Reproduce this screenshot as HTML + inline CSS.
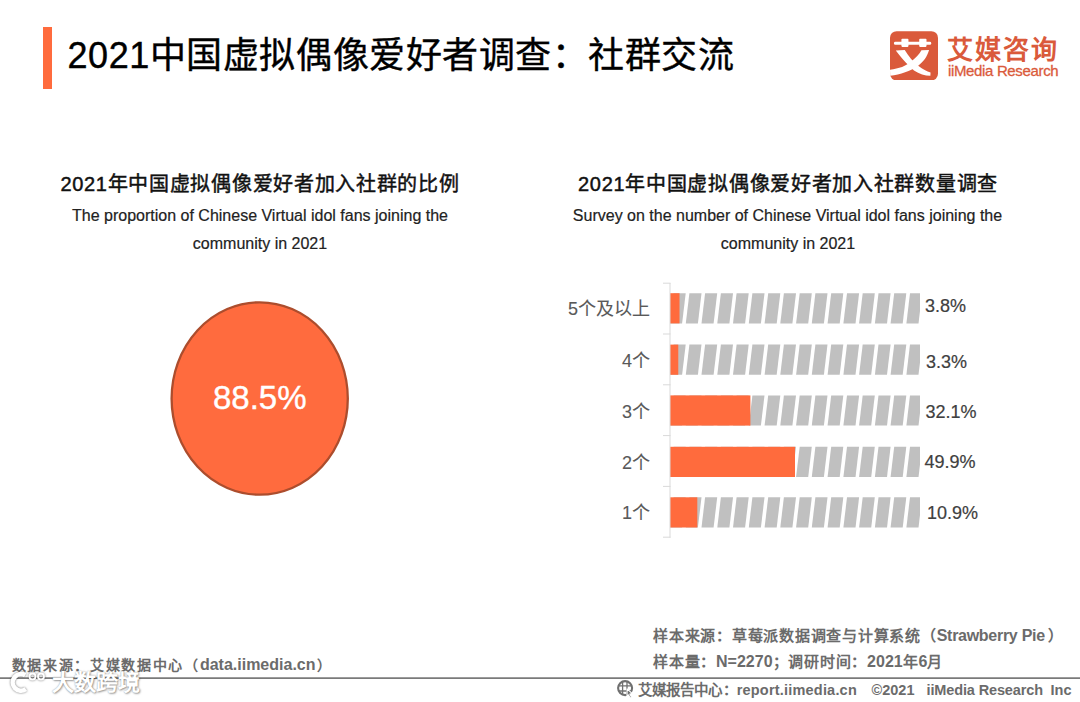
<!DOCTYPE html>
<html lang="zh-CN"><head><meta charset="utf-8">
<style>
html,body{margin:0;padding:0;}
body{width:1080px;height:702px;position:relative;overflow:hidden;background:#fff;font-family:"Liberation Sans",sans-serif;}
.a{position:absolute;white-space:nowrap;line-height:1;}
#bar{left:43px;top:27px;width:9px;height:61.5px;background:#FF6B3D;}
#title{left:67.5px;top:38px;font-size:36px;letter-spacing:0.55px;color:#000;-webkit-text-stroke:0.4px #000;}
#logoCh{left:947px;top:37px;font-size:26px;letter-spacing:2px;color:#DA5A3B;font-weight:bold;}
#logoEn{left:948px;top:63px;font-size:15px;color:#DA5A3B;letter-spacing:-0.35px;-webkit-text-stroke:0.3px #DA5A3B;}
.h{font-size:20px;letter-spacing:0.7px;font-weight:normal;-webkit-text-stroke:0.45px #111;color:#111;text-align:center;}
.en{font-size:16px;color:#222;text-align:center;-webkit-text-stroke:0.2px #222;}
.lbl{font-size:18px;color:#595959;text-align:right;-webkit-text-stroke:0.1px #595959;}
.val{font-size:18px;color:#404040;-webkit-text-stroke:0.2px #404040;}
.foot{font-size:16px;font-weight:bold;color:#6b6b6b;}
.c{font-size:15px;letter-spacing:0.76px;}
.c2{font-size:14px;letter-spacing:1.7px;}
.wm{font-size:22px;font-weight:bold;color:#fff;text-shadow:0 0 1.5px rgba(0,0,0,.4),1px 1px 2px rgba(0,0,0,.35);}
</style></head><body>
<div class="a" id="bar"></div>
<div class="a" id="title">2021中国虚拟偶像爱好者调查：社群交流</div>
<svg class="a" style="left:890px;top:30.5px" width="48" height="49.5" viewBox="60 55 580 595">
<rect x="60" y="55" width="580" height="595" rx="80" fill="#DA5A3B"/>
<g fill="#fff">
<rect x="108" y="183" width="450" height="36" rx="16"/>
<rect x="198" y="148" width="85" height="98" rx="10"/>
<rect x="413" y="148" width="88" height="98" rx="10"/>
<path d="M130,290 L238,283 C285,360 335,420 405,476 C455,516 505,541 550,554 L548,594 C480,594 415,572 350,530 C280,470 213,400 130,290 Z"/>
<path d="M440,287 L532,283 C507,365 467,425 397,475 C307,540 187,575 62,594 L60,522 C170,508 255,475 313,425 C373,375 413,340 440,287 Z"/>
</g></svg>
<div class="a" id="logoCh">艾媒咨询</div>
<div class="a" id="logoEn">iiMedia Research</div>

<div class="a h" style="left:60px;top:174px;width:400px;">2021年中国虚拟偶像爱好者加入社群的比例</div>
<div class="a en" style="left:60px;top:207.5px;width:400px;">The proportion of Chinese Virtual idol fans joining the</div>
<div class="a en" style="left:60px;top:235.5px;width:400px;">community in 2021</div>

<div class="a h" style="left:538px;top:174px;width:500px;">2021年中国虚拟偶像爱好者加入社群数量调查</div>
<div class="a en" style="left:537.5px;top:207.5px;width:500px;">Survey on the number of Chinese Virtual idol fans joining the</div>
<div class="a en" style="left:538px;top:235.5px;width:500px;">community in 2021</div>

<svg class="a" style="left:0;top:0" width="1080" height="702">
<defs><clipPath id="cb"><rect x="670" y="280" width="250" height="260"/></clipPath></defs>
<g clip-path="url(#cb)" fill="#C0C0C0">
<polygon points="673.6,293.2 685.7,293.2 682.1,323.4 670.0,323.4"/>
<polygon points="689.4,293.2 701.5,293.2 697.9,323.4 685.8,323.4"/>
<polygon points="705.1,293.2 717.2,293.2 713.6,323.4 701.5,323.4"/>
<polygon points="720.9,293.2 733.0,293.2 729.4,323.4 717.3,323.4"/>
<polygon points="736.6,293.2 748.7,293.2 745.1,323.4 733.0,323.4"/>
<polygon points="752.4,293.2 764.5,293.2 760.9,323.4 748.8,323.4"/>
<polygon points="768.2,293.2 780.3,293.2 776.7,323.4 764.6,323.4"/>
<polygon points="783.9,293.2 796.0,293.2 792.4,323.4 780.3,323.4"/>
<polygon points="799.7,293.2 811.8,293.2 808.2,323.4 796.1,323.4"/>
<polygon points="815.4,293.2 827.5,293.2 823.9,323.4 811.8,323.4"/>
<polygon points="831.2,293.2 843.3,293.2 839.7,323.4 827.6,323.4"/>
<polygon points="847.0,293.2 859.1,293.2 855.5,323.4 843.4,323.4"/>
<polygon points="862.7,293.2 874.8,293.2 871.2,323.4 859.1,323.4"/>
<polygon points="878.5,293.2 890.6,293.2 887.0,323.4 874.9,323.4"/>
<polygon points="894.2,293.2 906.3,293.2 902.7,323.4 890.6,323.4"/>
<polygon points="910.0,293.2 922.1,293.2 918.5,323.4 906.4,323.4"/>
<polygon points="925.8,293.2 937.9,293.2 934.3,323.4 922.2,323.4"/>
<polygon points="673.6,344.6 685.7,344.6 682.1,374.8 670.0,374.8"/>
<polygon points="689.4,344.6 701.5,344.6 697.9,374.8 685.8,374.8"/>
<polygon points="705.1,344.6 717.2,344.6 713.6,374.8 701.5,374.8"/>
<polygon points="720.9,344.6 733.0,344.6 729.4,374.8 717.3,374.8"/>
<polygon points="736.6,344.6 748.7,344.6 745.1,374.8 733.0,374.8"/>
<polygon points="752.4,344.6 764.5,344.6 760.9,374.8 748.8,374.8"/>
<polygon points="768.2,344.6 780.3,344.6 776.7,374.8 764.6,374.8"/>
<polygon points="783.9,344.6 796.0,344.6 792.4,374.8 780.3,374.8"/>
<polygon points="799.7,344.6 811.8,344.6 808.2,374.8 796.1,374.8"/>
<polygon points="815.4,344.6 827.5,344.6 823.9,374.8 811.8,374.8"/>
<polygon points="831.2,344.6 843.3,344.6 839.7,374.8 827.6,374.8"/>
<polygon points="847.0,344.6 859.1,344.6 855.5,374.8 843.4,374.8"/>
<polygon points="862.7,344.6 874.8,344.6 871.2,374.8 859.1,374.8"/>
<polygon points="878.5,344.6 890.6,344.6 887.0,374.8 874.9,374.8"/>
<polygon points="894.2,344.6 906.3,344.6 902.7,374.8 890.6,374.8"/>
<polygon points="910.0,344.6 922.1,344.6 918.5,374.8 906.4,374.8"/>
<polygon points="925.8,344.6 937.9,344.6 934.3,374.8 922.2,374.8"/>
<polygon points="673.6,395.4 685.7,395.4 682.1,425.6 670.0,425.6"/>
<polygon points="689.4,395.4 701.5,395.4 697.9,425.6 685.8,425.6"/>
<polygon points="705.1,395.4 717.2,395.4 713.6,425.6 701.5,425.6"/>
<polygon points="720.9,395.4 733.0,395.4 729.4,425.6 717.3,425.6"/>
<polygon points="736.6,395.4 748.7,395.4 745.1,425.6 733.0,425.6"/>
<polygon points="752.4,395.4 764.5,395.4 760.9,425.6 748.8,425.6"/>
<polygon points="768.2,395.4 780.3,395.4 776.7,425.6 764.6,425.6"/>
<polygon points="783.9,395.4 796.0,395.4 792.4,425.6 780.3,425.6"/>
<polygon points="799.7,395.4 811.8,395.4 808.2,425.6 796.1,425.6"/>
<polygon points="815.4,395.4 827.5,395.4 823.9,425.6 811.8,425.6"/>
<polygon points="831.2,395.4 843.3,395.4 839.7,425.6 827.6,425.6"/>
<polygon points="847.0,395.4 859.1,395.4 855.5,425.6 843.4,425.6"/>
<polygon points="862.7,395.4 874.8,395.4 871.2,425.6 859.1,425.6"/>
<polygon points="878.5,395.4 890.6,395.4 887.0,425.6 874.9,425.6"/>
<polygon points="894.2,395.4 906.3,395.4 902.7,425.6 890.6,425.6"/>
<polygon points="910.0,395.4 922.1,395.4 918.5,425.6 906.4,425.6"/>
<polygon points="925.8,395.4 937.9,395.4 934.3,425.6 922.2,425.6"/>
<polygon points="673.6,446.8 685.7,446.8 682.1,477.0 670.0,477.0"/>
<polygon points="689.4,446.8 701.5,446.8 697.9,477.0 685.8,477.0"/>
<polygon points="705.1,446.8 717.2,446.8 713.6,477.0 701.5,477.0"/>
<polygon points="720.9,446.8 733.0,446.8 729.4,477.0 717.3,477.0"/>
<polygon points="736.6,446.8 748.7,446.8 745.1,477.0 733.0,477.0"/>
<polygon points="752.4,446.8 764.5,446.8 760.9,477.0 748.8,477.0"/>
<polygon points="768.2,446.8 780.3,446.8 776.7,477.0 764.6,477.0"/>
<polygon points="783.9,446.8 796.0,446.8 792.4,477.0 780.3,477.0"/>
<polygon points="799.7,446.8 811.8,446.8 808.2,477.0 796.1,477.0"/>
<polygon points="815.4,446.8 827.5,446.8 823.9,477.0 811.8,477.0"/>
<polygon points="831.2,446.8 843.3,446.8 839.7,477.0 827.6,477.0"/>
<polygon points="847.0,446.8 859.1,446.8 855.5,477.0 843.4,477.0"/>
<polygon points="862.7,446.8 874.8,446.8 871.2,477.0 859.1,477.0"/>
<polygon points="878.5,446.8 890.6,446.8 887.0,477.0 874.9,477.0"/>
<polygon points="894.2,446.8 906.3,446.8 902.7,477.0 890.6,477.0"/>
<polygon points="910.0,446.8 922.1,446.8 918.5,477.0 906.4,477.0"/>
<polygon points="925.8,446.8 937.9,446.8 934.3,477.0 922.2,477.0"/>
<polygon points="673.6,497.3 685.7,497.3 682.1,527.5 670.0,527.5"/>
<polygon points="689.4,497.3 701.5,497.3 697.9,527.5 685.8,527.5"/>
<polygon points="705.1,497.3 717.2,497.3 713.6,527.5 701.5,527.5"/>
<polygon points="720.9,497.3 733.0,497.3 729.4,527.5 717.3,527.5"/>
<polygon points="736.6,497.3 748.7,497.3 745.1,527.5 733.0,527.5"/>
<polygon points="752.4,497.3 764.5,497.3 760.9,527.5 748.8,527.5"/>
<polygon points="768.2,497.3 780.3,497.3 776.7,527.5 764.6,527.5"/>
<polygon points="783.9,497.3 796.0,497.3 792.4,527.5 780.3,527.5"/>
<polygon points="799.7,497.3 811.8,497.3 808.2,527.5 796.1,527.5"/>
<polygon points="815.4,497.3 827.5,497.3 823.9,527.5 811.8,527.5"/>
<polygon points="831.2,497.3 843.3,497.3 839.7,527.5 827.6,527.5"/>
<polygon points="847.0,497.3 859.1,497.3 855.5,527.5 843.4,527.5"/>
<polygon points="862.7,497.3 874.8,497.3 871.2,527.5 859.1,527.5"/>
<polygon points="878.5,497.3 890.6,497.3 887.0,527.5 874.9,527.5"/>
<polygon points="894.2,497.3 906.3,497.3 902.7,527.5 890.6,527.5"/>
<polygon points="910.0,497.3 922.1,497.3 918.5,527.5 906.4,527.5"/>
<polygon points="925.8,497.3 937.9,497.3 934.3,527.5 922.2,527.5"/>
</g>
<rect x="670" y="293.2" width="9.52" height="30.2" fill="#FF6B3D"/>
<rect x="670" y="344.6" width="8.27" height="30.2" fill="#FF6B3D"/>
<rect x="670" y="395.4" width="80.41" height="30.2" fill="#FF6B3D"/>
<rect x="670" y="446.8" width="125.00" height="30.2" fill="#FF6B3D"/>
<rect x="670" y="497.3" width="27.30" height="30.2" fill="#FF6B3D"/>
<line x1="670" y1="283" x2="670" y2="537.7" stroke="#D9D9D9" stroke-width="1"/>
<line x1="663" y1="283.2" x2="670.5" y2="283.2" stroke="#D9D9D9" stroke-width="1"/>
<line x1="663" y1="334.0" x2="670.5" y2="334.0" stroke="#D9D9D9" stroke-width="1"/>
<line x1="663" y1="384.8" x2="670.5" y2="384.8" stroke="#D9D9D9" stroke-width="1"/>
<line x1="663" y1="435.6" x2="670.5" y2="435.6" stroke="#D9D9D9" stroke-width="1"/>
<line x1="663" y1="486.4" x2="670.5" y2="486.4" stroke="#D9D9D9" stroke-width="1"/>
<line x1="663" y1="537.2" x2="670.5" y2="537.2" stroke="#D9D9D9" stroke-width="1"/>
<ellipse cx="259.7" cy="398.5" rx="88.1" ry="96.2" fill="#FF6B3E" stroke="#AC4D2D" stroke-width="2.3"/>
</svg>
<div class="a" style="left:213px;top:381px;font-size:33px;color:#fff;-webkit-text-stroke:0.4px #fff;">88.5%</div>
<div class="a lbl" style="right:430.0px;top:300.0px;">5个及以上</div>
<div class="a val" style="left:925.0px;top:296.5px;">3.8%</div>
<div class="a lbl" style="right:430.0px;top:351.9px;">4个</div>
<div class="a val" style="left:926.0px;top:353.1px;">3.3%</div>
<div class="a lbl" style="right:430.0px;top:402.8px;">3个</div>
<div class="a val" style="left:925.5px;top:402.7px;">32.1%</div>
<div class="a lbl" style="right:430.0px;top:454.2px;">2个</div>
<div class="a val" style="left:924.5px;top:453.3px;">49.9%</div>
<div class="a lbl" style="right:430.0px;top:504.2px;">1个</div>
<div class="a val" style="left:927.0px;top:504.4px;">10.9%</div>

<div class="a foot" style="left:11.5px;top:657px;"><span class="c2">数据来源：艾媒数据中心（</span><span style="letter-spacing:0px">data.iimedia.cn</span><span class="c2" style="margin-left:1.5px">）</span></div>
<div class="a foot" style="left:653px;top:627.5px;"><span class="c">样本来源：草莓派数据调查与计算系统（</span><span style="letter-spacing:-0.28px">Strawberry Pie</span><span class="c" style="margin-left:3.5px">）</span></div>
<div class="a foot" style="left:653px;top:654px;"><span class="c">样本量：</span><span style="letter-spacing:0px">N=2270</span><span class="c">；调研时间：</span><span style="letter-spacing:0px">2021</span><span class="c">年</span>6<span class="c">月</span></div>
<div class="a" style="left:0;top:677px;width:1080px;height:1px;background:#9c9c9c;"></div><div class="a" style="left:0;top:678px;width:1080px;height:1px;background:#7a7a7a;"></div>
<svg class="a" style="left:6px;top:668px;filter:drop-shadow(0.5px 0.5px 1.2px rgba(0,0,0,.55))" width="46" height="30" viewBox="0 0 46 30"><g fill="none" stroke="#fff"><path d="M19.2,7.2 A8.3,8.3 0 1 0 19.8,21.2" stroke-width="4.6"/><circle cx="26.5" cy="8.5" r="3" stroke-width="1.8"/><circle cx="35" cy="8.5" r="3" stroke-width="1.8"/></g></svg>
<div class="a wm" style="left:52px;top:672px;">大数跨境</div>
<div class="a foot" style="left:638px;top:682.5px;font-size:14.5px;"><span style="letter-spacing:0.1px">艾媒报告中心：</span><span style="letter-spacing:0.2px">report.iimedia.cn</span></div>
<div class="a foot" style="left:871.5px;top:682.5px;font-size:14.5px;letter-spacing:0px;">©2021</div>
<div class="a foot" style="left:926.5px;top:682.5px;font-size:14.5px;letter-spacing:-0.13px;">iiMedia Research</div>
<div class="a foot" style="left:1050.5px;top:682.5px;font-size:14.5px;letter-spacing:0px;">Inc</div>
<svg class="a" style="left:612px;top:677px" width="28" height="23" viewBox="0 0 28 23"><defs><clipPath id="gc"><circle cx="13.1" cy="11.1" r="7"/></clipPath></defs><g fill="none" stroke="#707070"><circle cx="13.1" cy="11.1" r="7" stroke-width="2.1"/><g clip-path="url(#gc)" stroke-width="1.3"><line x1="10.6" y1="3" x2="10.6" y2="19"/><line x1="15" y1="3" x2="15" y2="19"/><line x1="5" y1="8.9" x2="21" y2="8.9"/><line x1="5" y1="14" x2="21" y2="14"/></g></g><path d="M15.1,11.8 L20.3,16.6 L17.8,17 L19.6,20.2 L18.2,21 L16.4,17.9 L15,19.6 Z" fill="#707070" stroke="#fff" stroke-width="1.1" stroke-linejoin="round"/></svg>
</body></html>
